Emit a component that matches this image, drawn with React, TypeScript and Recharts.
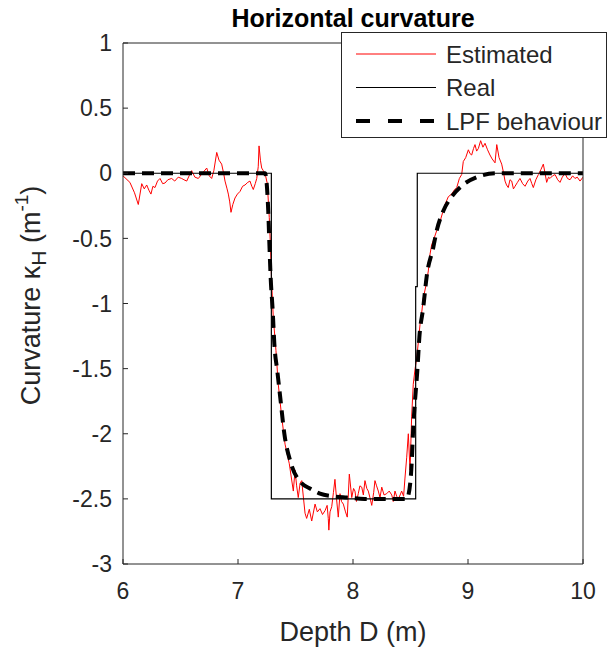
import React from 'react';
import { LineChart, Line, XAxis, YAxis, CartesianGrid, Legend } from 'recharts';

// ---- data ----
const xTicks = [6, 7, 8, 9, 10];
const yTicks = [1, 0.5, 0, -0.5, -1, -1.5, -2, -2.5, -3];

const estX = [6.0, 6.06, 6.1, 6.133, 6.163, 6.185, 6.206, 6.225, 6.243, 6.26, 6.278, 6.3, 6.322, 6.345, 6.365, 6.39, 6.423, 6.45, 6.48, 6.51, 6.53, 6.554, 6.575, 6.597, 6.625, 6.655, 6.69, 6.728, 6.75, 6.771, 6.79, 6.815, 6.835, 6.858, 6.875, 6.887, 6.905, 6.916, 6.928, 6.939, 6.955, 6.974, 6.995, 7.017, 7.04, 7.061, 7.085, 7.104, 7.12, 7.133, 7.15, 7.163, 7.176, 7.183, 7.195, 7.206, 7.22, 7.235, 7.255, 7.272, 7.284, 7.293, 7.307, 7.33, 7.35, 7.38, 7.409, 7.446, 7.481, 7.496, 7.51, 7.524, 7.54, 7.554, 7.57, 7.583, 7.597, 7.62, 7.641, 7.67, 7.69, 7.713, 7.735, 7.757, 7.775, 7.785, 7.79, 7.8, 7.815, 7.83, 7.843, 7.857, 7.872, 7.887, 7.9, 7.916, 7.935, 7.95, 7.968, 7.989, 8.005, 8.017, 8.03, 8.046, 8.06, 8.076, 8.09, 8.104, 8.12, 8.133, 8.15, 8.163, 8.18, 8.191, 8.205, 8.22, 8.235, 8.25, 8.27, 8.293, 8.315, 8.337, 8.35, 8.365, 8.38, 8.394, 8.41, 8.423, 8.44, 8.452, 8.467, 8.481, 8.496, 8.51, 8.524, 8.54, 8.554, 8.57, 8.583, 8.6, 8.611, 8.635, 8.655, 8.67, 8.684, 8.705, 8.728, 8.745, 8.757, 8.78, 8.8, 8.829, 8.858, 8.88, 8.902, 8.925, 8.945, 8.959, 8.98, 9.003, 9.018, 9.032, 9.048, 9.061, 9.075, 9.09, 9.11, 9.13, 9.148, 9.17, 9.191, 9.21, 9.235, 9.25, 9.27, 9.293, 9.31, 9.322, 9.335, 9.35, 9.365, 9.38, 9.395, 9.409, 9.43, 9.452, 9.475, 9.496, 9.52, 9.539, 9.555, 9.568, 9.59, 9.612, 9.635, 9.655, 9.67, 9.684, 9.7, 9.713, 9.735, 9.757, 9.78, 9.8, 9.82, 9.843, 9.865, 9.887, 9.91, 9.93, 9.95, 9.974, 10.0];
const estY = [-0.02, -0.07, -0.15, -0.24, -0.08, -0.12, -0.09, -0.13, -0.16, -0.1, -0.11, -0.06, -0.04, -0.08, -0.075, -0.05, -0.04, -0.06, -0.03, -0.04, -0.05, -0.06, -0.02, 0.02, -0.03, -0.04, 0.0, 0.04, -0.02, -0.04, 0.02, 0.16, 0.1, 0.07, 0.0, -0.06, -0.12, -0.16, -0.22, -0.3, -0.24, -0.19, -0.16, -0.14, -0.1, -0.09, -0.07, -0.06, -0.1, -0.125, -0.08, -0.04, 0.05, 0.21, 0.1, 0.04, 0.02, 0.0, -0.08, -0.34, -0.6, -0.85, -1.11, -1.36, -1.62, -1.87, -2.08, -2.23, -2.44, -2.28, -2.4, -2.49, -2.38, -2.36, -2.5, -2.61, -2.65, -2.58, -2.67, -2.54, -2.6, -2.575, -2.62, -2.59, -2.55, -2.65, -2.74, -2.6, -2.56, -2.45, -2.35, -2.5, -2.64, -2.46, -2.52, -2.54, -2.6, -2.64, -2.31, -2.49, -2.42, -2.44, -2.52, -2.46, -2.4, -2.41, -2.47, -2.36, -2.42, -2.44, -2.5, -2.55, -2.45, -2.36, -2.4, -2.44, -2.49, -2.41, -2.47, -2.46, -2.44, -2.47, -2.52, -2.44, -2.48, -2.5, -2.47, -2.44, -2.48, -2.34, -2.18, -2.0, -2.28, -1.87, -1.62, -1.5, -1.42, -1.28, -1.16, -1.05, -0.96, -0.86, -0.75, -0.62, -0.55, -0.5, -0.44, -0.4, -0.37, -0.3, -0.24, -0.18, -0.16, -0.13, -0.11, -0.04, -0.01, 0.09, 0.12, 0.18, 0.15, 0.14, 0.19, 0.22, 0.17, 0.19, 0.25, 0.2, 0.23, 0.18, 0.14, 0.11, 0.08, 0.22, 0.12, 0.07, 0.0, -0.06, -0.09, -0.11, -0.05, -0.06, -0.12, -0.1, -0.07, -0.04, -0.08, -0.1, -0.06, -0.04, -0.08, -0.11, -0.05, -0.01, 0.03, 0.07, 0.0, -0.07, -0.03, -0.04, -0.02, -0.01, -0.05, -0.07, -0.03, 0.0, -0.04, -0.05, -0.02, -0.04, -0.03, -0.06, -0.03];

const realX = [6, 7.29, 7.29, 8.545, 8.545, 8.559, 8.559, 10];
const realY = [0, 0, -2.5, -2.5, -0.87, -0.87, 0, 0];

const lpfX = [6, 7.235, 7.263, 7.272, 7.284, 7.302, 7.316, 7.342, 7.371, 7.403, 7.458, 7.554, 7.626, 7.713, 7.826, 7.945, 8.1, 8.47, 8.481, 8.51, 8.524, 8.539, 8.559, 8.577, 8.611, 8.641, 8.698, 8.728, 8.785, 8.858, 8.959, 9.076, 9.25, 10];
const lpfY = [0, 0, -0.29, -0.52, -0.8, -1.06, -1.31, -1.52, -1.75, -2.0, -2.22, -2.38, -2.42, -2.46, -2.48, -2.49, -2.5, -2.5, -2.475, -2.23, -1.95, -1.75, -1.52, -1.26, -1.03, -0.79, -0.57, -0.44, -0.29, -0.18, -0.087, -0.03, 0, 0];

const seriesNames = ['Estimated', 'Real', 'LPF behaviour'];

const estData = estX.map((x, i) => ({ x, y: estY[i] }));
const realData = realX.map((x, i) => ({ x, y: realY[i] }));
const lpfData = lpfX.map((x, i) => ({ x, y: lpfY[i] }));

const FONT = '"Liberation Sans", Arial, Helvetica, sans-serif';
const AX = '#262626';

const YLabel = (props: any) => {
  const vb = props.viewBox || { y: 43, height: 521 };
  const cx = 31;
  const cy = vb.y + vb.height / 2 - 8;
  return (
    <text
      x={cx}
      y={cy}
      transform={`rotate(-90, ${cx}, ${cy})`}
      textAnchor="middle"
      dominantBaseline="central"
      fontFamily={FONT}
      fontSize={27}
      fill={AX}
    >
      Curvature κ
      <tspan dy={7} fontSize={21}>H</tspan>
      <tspan dy={-7}> (m</tspan>
      <tspan dy={-10} fontSize={19}>-1</tspan>
      <tspan dy={10}>)</tspan>
    </text>
  );
};

const XLabel = (props: any) => {
  const vb = props.viewBox || { x: 123, width: 460 };
  return (
    <text x={vb.x + vb.width / 2} y={641} textAnchor="middle" fontFamily={FONT} fontSize={27} fill={AX}>
      Depth D (m)
    </text>
  );
};

const Title = (props: any) => {
  const vb = props.viewBox || { x: 123, width: 460 };
  return (
    <text x={vb.x + vb.width / 2} y={27} textAnchor="middle" fontFamily={FONT} fontSize={25} fontWeight="bold" fill="#000">
      Horizontal curvature
    </text>
  );
};

const renderLegend = () => {
  const rows = [
    { name: seriesNames[0], color: '#ff0000', w: 1, dash: undefined as string | undefined },
    { name: seriesNames[1], color: '#000', w: 1, dash: undefined },
    { name: seriesNames[2], color: '#000', w: 4, dash: '14 18' },
  ];
  return (
    <svg width={266} height={106} style={{ display: 'block' }}>
      <rect x={0.5} y={0.5} width={265} height={105} fill="#fff" stroke={AX} strokeWidth={1} />
      {rows.map((r, i) => {
        const y = 22 + i * 33.5;
        return (
          <g key={r.name}>
            <line x1={15} x2={95} y1={y} y2={y} stroke={r.color} strokeWidth={r.w} strokeDasharray={r.dash} />
            <text x={105} y={y} dominantBaseline="central" fontFamily={FONT} fontSize={24} fill={AX}>
              {r.name}
            </text>
          </g>
        );
      })}
    </svg>
  );
};

export default function App() {
  return (
    <div style={{ position: 'absolute', left: 0, top: 0, width: 609, height: 655, background: '#fff' }}>
      <LineChart width={609} height={655} margin={{ top: 42, right: 25, bottom: 61, left: 63 }}>
        <CartesianGrid stroke="#e3e3e3" strokeWidth={1} horizontalValues={yTicks} verticalValues={xTicks} />
        <XAxis
          xAxisId="b"
          dataKey="x"
          type="number"
          domain={[6, 10]}
          ticks={xTicks}
          allowDataOverflow
          height={30}
          axisLine={{ stroke: AX, strokeWidth: 1 }}
          tickLine={{ stroke: AX }}
          tickSize={-5}
          tickMargin={24}
          tick={{ fill: AX, fontSize: 23, fontFamily: FONT }}
          label={<XLabel />}
        />
        <XAxis
          xAxisId="t"
          orientation="top"
          dataKey="x"
          type="number"
          domain={[6, 10]}
          ticks={xTicks}
          height={1}
          axisLine={{ stroke: AX, strokeWidth: 1 }}
          tickLine={{ stroke: AX }}
          tickSize={-5}
          tick={false}
          label={<Title />}
        />
        <YAxis
          yAxisId="l"
          type="number"
          domain={[-3, 1]}
          ticks={yTicks}
          allowDataOverflow
          width={60}
          axisLine={{ stroke: AX, strokeWidth: 1 }}
          tickLine={{ stroke: AX }}
          tickSize={-5}
          tickMargin={16}
          tick={{ fill: AX, fontSize: 23, fontFamily: FONT }}
          label={<YLabel />}
        />
        <YAxis
          yAxisId="r"
          orientation="right"
          type="number"
          domain={[-3, 1]}
          ticks={yTicks}
          width={1}
          axisLine={{ stroke: AX, strokeWidth: 1 }}
          tickLine={{ stroke: AX }}
          tickSize={-5}
          tick={false}
        />
        <Line xAxisId="b" yAxisId="l" data={estData} dataKey="y" name={seriesNames[0]} type="linear" stroke="#ff0000" strokeWidth={1} dot={false} isAnimationActive={false} />
        <Line xAxisId="b" yAxisId="l" data={realData} dataKey="y" name={seriesNames[1]} type="linear" stroke="#000" strokeWidth={1.2} dot={false} isAnimationActive={false} />
        <Line xAxisId="b" yAxisId="l" data={lpfData} dataKey="y" name={seriesNames[2]} type="monotone" stroke="#000" strokeWidth={4} strokeDasharray="12 7" dot={false} isAnimationActive={false} />
        <Legend
          layout="horizontal"
          verticalAlign="middle"
          align="center"
          content={renderLegend}
          wrapperStyle={{ position: 'absolute', left: 341, top: 32, width: 266, height: 106 }}
        />
      </LineChart>
    </div>
  );
}
